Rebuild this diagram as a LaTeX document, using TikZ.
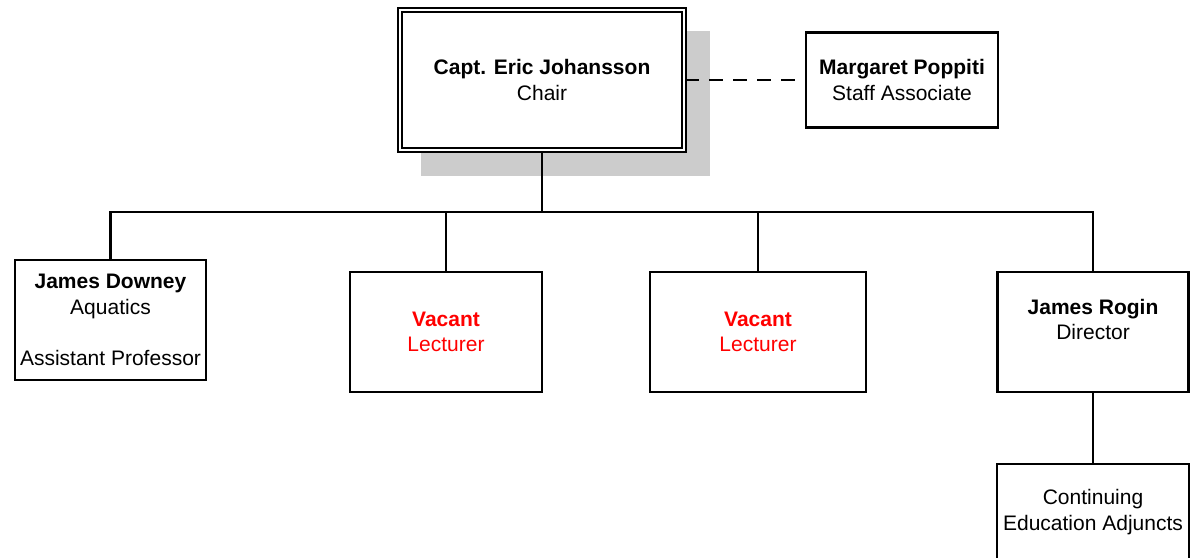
\documentclass[tikz,border=0pt]{standalone}
\usepackage{fontspec}
\setmainfont{Liberation Sans}
\usetikzlibrary{shadows}

\begin{document}
\begin{tikzpicture}[x=1pt, y=-1pt, line width=2.1pt]
  \tikzstyle{every node} = [draw, fill = white,
                            inner sep = 0,
                            align = center,
                            font = \fontsize{21}{25.5}\selectfont]
\tikzset{BoxStyle/.style={minimum width = 192pt, minimum height = 120pt}}
\tikzset{HeadStyle/.style={double, double distance = 2pt,
                           minimum width = 284pt, minimum height = 140pt,
                           drop shadow = {shadow xshift = 23pt, shadow yshift = -23pt,
                                          fill = black!20, draw = black!20,
                                          line width = 5pt, opacity = 1}}}
\tikzset{EdgeStyle/.style={line width = 2.1pt}}
\tikzset{VacantStyle/.style={BoxStyle, text = red}}
\useasboundingbox (0,0) rectangle (1190,557);

\node[HeadStyle] (Chair) at (542,80) {\textbf{Capt. Eric Johansson}\\Chair};
\node[minimum width = 192pt, minimum height = 95pt] (Assoc) at (902,80)
  {\textbf{Margaret Poppiti}\\Staff Associate};

\node[BoxStyle, minimum width = 191pt] (Downey) at (110.5,320)
  {\textbf{James Downey}\\Aquatics\\~\\Assistant Professor};
\node[VacantStyle] (VacA) at (446,332) {\textbf{Vacant}\\Lecturer};
\node[VacantStyle, minimum width = 216pt] (VacB) at (758,332) {\textbf{Vacant}\\Lecturer};
\node[BoxStyle, minimum width = 191pt] (Rogin) at (1093,332)
  {\textbf{James Rogin}\\Director\\~};
\node[BoxStyle, minimum height = 96pt] (Adj) at (1093,512)
  {Continuing\\Education Adjuncts};

\coordinate (Bus) at (542,212);

\draw[EdgeStyle, dash pattern = on 14pt off 10pt] (Chair) -- (Assoc);
\draw[EdgeStyle] (Chair) -- (Bus);
\draw[EdgeStyle] (Downey) |- (Bus) -| (Rogin);
\draw[EdgeStyle] (VacA) -- (VacA |- Bus);
\draw[EdgeStyle] (VacB) -- (VacB |- Bus);
\draw[EdgeStyle] (Rogin) -- (Adj);

\end{tikzpicture}
\end{document}
